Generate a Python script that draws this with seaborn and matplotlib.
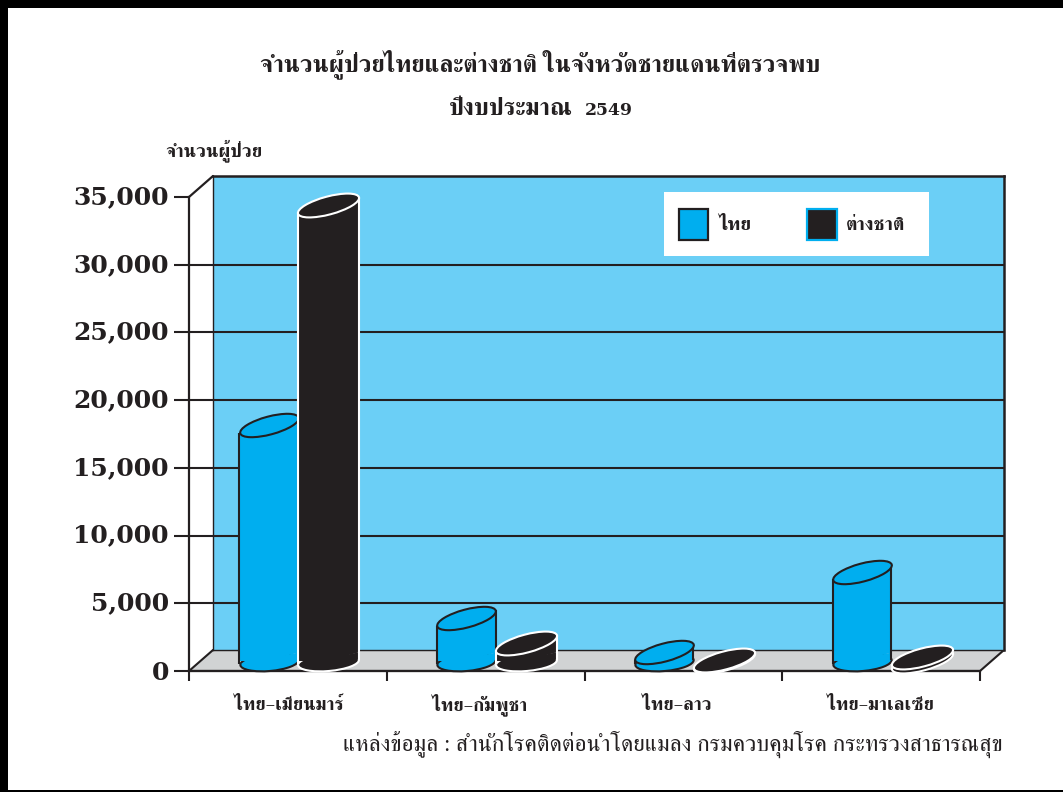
import matplotlib
matplotlib.use('Agg')
import matplotlib.pyplot as plt
import pandas as pd
import seaborn as sns
from matplotlib.collections import EllipseCollection
from matplotlib.patches import Patch, Polygon, Rectangle
from matplotlib.path import Path
from matplotlib.transforms import Affine2D, IdentityTransform

# data
borders = ['ไทย–เมียนมาร์', 'ไทย–กัมพูชา', 'ไทย–ลาว', 'ไทย–มาเลเซีย']
thai = [17400, 3150, 600, 6570]
foreign = [33640, 1300, 50, 260]
series_names = ['ไทย', 'ต่างชาติ']
y_ticks = [0, 5000, 10000, 15000, 20000, 25000, 30000, 35000]
title_line1 = 'จำนวนผู้ป่วยไทยและต่างชาติ ในจังหวัดชายแดนที่ตรวจพบ'
title_line2 = 'ปีงบประมาณ'
title_year = '2549'
y_title = 'จำนวนผู้ป่วย'
source = 'แหล่งข้อมูล : สำนักโรคติดต่อนำโดยแมลง กรมควบคุมโรค กระทรวงสาธารณสุข'

W, H = 1063, 792
THAI_FONT = 'FreeSerif'
NUM_FONT = 'DejaVu Serif'
C_THAI, C_FOR = '#00AEEF', '#231F20'
C_WALL, C_FLOOR, C_LINE = '#6BCFF6', '#D1D3D4', '#231F20'

sns.set_theme(style='white')
plt.rcParams['font.family'] = [THAI_FONT, 'DejaVu Sans']

fig = plt.figure(figsize=(W / 100, H / 100), dpi=100, facecolor='white')


def box(x0, y_top, x1, y_bot):
    return [x0 / W, 1 - y_bot / H, (x1 - x0) / W, (y_bot - y_top) / H]


def fx(x):
    return x / W


def fy(y):
    return 1 - y / H


# page frame
for r in [(0, 0, W, 8), (0, 0, 8, H), (0, 790, W, H)]:
    fig.add_artist(Rectangle((fx(r[0]), fy(r[3])), (r[2] - r[0]) / W, (r[3] - r[1]) / H,
                             transform=fig.transFigure, fc='black', ec='none'))

YMAX = 35000
K = 474 / YMAX  # px per unit

# front plane: axis, ticks, left wall grid segments, floor
front = fig.add_axes(box(189, 197, 980, 671), facecolor='none', zorder=1)
front.set_xlim(-0.5, 3.5)
front.set_ylim(0, YMAX)
front.set_yticks(y_ticks)
front.set_yticklabels([])
for v in y_ticks:
    drop_pt = (9 if v == 0 else 7) * 0.72
    front.annotate(f'{v:,}', xy=(0, v), xycoords=front.get_yaxis_transform(),
                   xytext=(-14.5, -drop_pt), textcoords='offset points', ha='right', va='baseline',
                   family=NUM_FONT, fontweight='bold', fontsize=18, color=C_LINE, annotation_clip=False)
front.set_xticks([-0.5, 0.5, 1.5, 2.5, 3.5])
front.set_xticklabels([])
label_px = [289, 480, 677, 880]
front.set_xticks([(p - 189) / 197.75 - 0.5 for p in label_px], minor=True)
front.set_xticklabels(borders, minor=True, fontsize=13.4, fontweight='bold', color=C_LINE, va='baseline')
front.tick_params(axis='x', which='minor', length=0, pad=28)
front.tick_params(axis='x', which='major', length=7.5, width=1.5, color=C_LINE, bottom=True)
front.tick_params(axis='y', length=10.5, width=1.5, color=C_LINE, pad=4, left=True)
front.grid(axis='y', color=C_LINE, lw=1.5)
front.get_ygridlines()[-1].set_visible(False)
front.set_axisbelow(True)
for s in ['top', 'right']:
    front.spines[s].set_visible(False)
for s in ['left', 'bottom']:
    front.spines[s].set_color(C_LINE)
    front.spines[s].set_linewidth(1.6)

# floor and side diagonals
floor = Polygon([(fx(189), fy(671)), (fx(213), fy(650)), (fx(1004), fy(650)), (fx(980), fy(671))],
                closed=True, transform=fig.transFigure, fc=C_FLOOR, ec=C_LINE, lw=1.5, zorder=0)
fig.add_artist(floor)
fig.add_artist(plt.Line2D([fx(189), fx(213)], [fy(197), fy(176)], transform=fig.transFigure,
                          color=C_LINE, lw=1.6))

# back wall
back = fig.add_axes(box(213, 176, 1004, 650), facecolor=C_WALL, zorder=2)
back.set_xlim(0, 1)
back.set_ylim(21 / K, 495 / K)
back.set_yticks(y_ticks[1:-1])
back.set_xticks([])
back.tick_params(axis='y', left=False, labelleft=False)
back.grid(axis='y', color=C_LINE, lw=1.5)
back.set_axisbelow(True)
for s in back.spines.values():
    s.set_color(C_LINE)
    s.set_linewidth(1.8)
back.spines['left'].set_linewidth(1.0)
back.spines['bottom'].set_linewidth(1.0)

# bars on the mid-depth plane
mid = fig.add_axes(box(199, 186.5, 990, 660.5), facecolor='none', zorder=3)
df = pd.DataFrame({
    'border': borders * 2,
    'group': [series_names[0]] * 4 + [series_names[1]] * 4,
    'patients': thai + foreign,
})
sns.barplot(data=df, x='border', y='patients', hue='group', order=borders,
            hue_order=series_names, palette=[C_THAI, C_FOR], saturation=1,
            width=0.617, gap=0, legend=False, ax=mid, linewidth=0)
mid.set_xlim(-0.5, 3.5)
mid.set_ylim(0, YMAX)
mid.axis('off')

SLOPE = 0.268
PT = 0.72
EH, EANG = 18 * PT, 15
BH, BANG = 17 * PT, 5
LW = 1.5
outline = ['#231F20', 'white']
shift_x = [2.5 / 197.75, 0]
left_foot, right_foot = 4.2 / K, -7.2 / K    # where the sides meet the round base
base_drop = 1.5 / K
fig.canvas.draw()
for idx, container in enumerate(mid.containers):
    z = 3 + idx * 3
    for bar in container:
        bar.set_x(bar.get_x() + shift_x[idx])
        bar.set_width(bar.get_width() - shift_x[idx])
        x0, w, v = bar.get_x(), bar.get_width(), bar.get_height()
        xc = x0 + w / 2
        px, py = mid.transData.transform((xc, 0))
        xl, _ = mid.transData.transform((x0, 0))
        xr, _ = mid.transData.transform((x0 + w, 0))
        w_px = xr - xl
        shear = Affine2D.from_values(1, SLOPE, 0, 1, 0, -SLOPE * px)
        tr = mid.transData + shear
        bar.set_transform(tr)
        bar.set_zorder(z + 1)
        clip = Path([(xl - 2, py - 3.7), (xr + 2, py + 0.7), (xr + 2, 800), (xl - 2, 800), (xl - 2, py - 3.7)])
        bar.set_clip_on(True)
        bar.set_clip_path(clip, IdentityTransform())
        face = bar.get_facecolor()
        ec = outline[idx]
        top_w = w_px * 1.035 * PT
        short = v * K < 6
        if short:
            # a nearly flat disc: the base repeats the top
            bw, bh, bang, bdrop = top_w, EH, EANG, 0.0
        else:
            bw, bh, bang, bdrop = w_px * PT, BH, BANG, base_drop
            # lower-right filler so the body reaches the round base
            mid.add_patch(Polygon([(x0, left_foot), (x0 + w, right_foot), (x0 + w, 0)], closed=True,
                                  transform=tr, fc=face, ec='none', clip_on=False, zorder=z + 1))
            if v > left_foot:
                mid.plot([x0, x0], [left_foot, v], transform=tr, color=ec, lw=LW, clip_on=False,
                         zorder=z + 1.5, solid_capstyle='butt')
            mid.plot([x0 + w, x0 + w], [right_foot, v], transform=tr, color=ec, lw=LW, clip_on=False,
                     zorder=z + 1.5, solid_capstyle='butt')
        base = EllipseCollection([bw], [bh], [bang], units='points', offsets=[(xc, -bdrop)],
                                 offset_transform=mid.transData, facecolors=[face],
                                 edgecolors=[ec], linewidths=LW, zorder=z, clip_on=False)
        mid.add_collection(base, autolim=False)
        top = EllipseCollection([top_w], [EH], [EANG], units='points', offsets=[(xc, v)],
                                offset_transform=mid.transData, facecolors=[face],
                                edgecolors=[ec], linewidths=LW, zorder=z + 2, clip_on=False)
        mid.add_collection(top, autolim=False)

# legend
fig.add_artist(Rectangle((fx(664), fy(256)), 265 / W, 64 / H, transform=fig.transFigure,
                         fc='white', ec='none', zorder=10))
handles = [Patch(fc=C_THAI, ec=C_LINE, lw=1.6, label=series_names[0]),
           Patch(fc=C_FOR, ec=C_THAI, lw=1.6, label=series_names[1])]
leg = fig.legend(handles=handles, ncol=2, loc='upper left',
                 bbox_to_anchor=(fx(679), fy(209)), bbox_transform=fig.transFigure,
                 frameon=False, fontsize=14, handlelength=1.5, handleheight=2.05, handletextpad=0.5,
                 columnspacing=2.9, borderpad=0, borderaxespad=0)
for t in leg.get_texts():
    t.set_color(C_LINE)
    t.set_fontweight('bold')
leg.set_zorder(20)

# texts
fig.text(fx(540), fy(71.5), title_line1, ha='center', va='baseline', fontsize=17.4, fontweight='bold', color=C_LINE)
fig.text(fx(573), fy(115), title_line2, ha='right', va='baseline', fontsize=17.4, fontweight='bold', color=C_LINE)
fig.text(fx(585), fy(115), title_year, ha='left', va='baseline', family=NUM_FONT, fontsize=12.4,
         fontweight='bold', color=C_LINE)
fig.text(fx(165), fy(156), y_title, ha='left', va='baseline', fontsize=13.5, fontweight='bold', color=C_LINE)
fig.text(fx(1003), fy(751), source, ha='right', va='baseline', fontsize=16.75, color=C_LINE)

fig.savefig('out.png', dpi=100)
